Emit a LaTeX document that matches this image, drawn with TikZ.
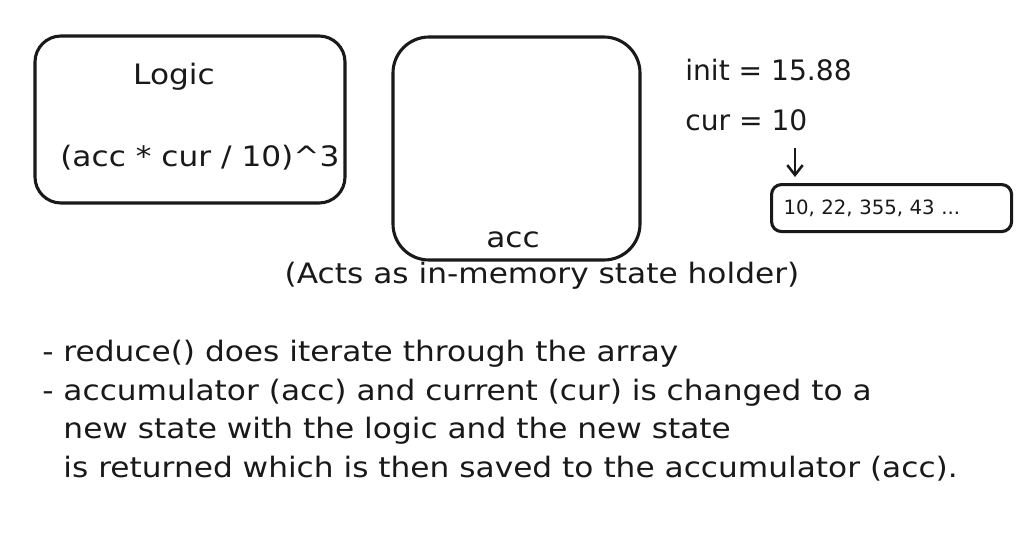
\documentclass[tikz,border=0pt]{standalone}
\usepackage{fontspec}
\setmainfont{DejaVu Sans}
\newfontfamily\widefont[FakeStretch=1.11]{DejaVu Sans}
\usepackage{tikz}
\usetikzlibrary{positioning, calc, arrows.meta}

\tikzset{
  box/.style={draw=black!90, line width=2.2pt},
  txt/.style={inner sep=0pt, font=\fontsize{20}{24}\selectfont, text=black!90},
  wide/.style={inner sep=0pt, font=\widefont\fontsize{20}{24}\selectfont, text=black!90},
  small/.style={inner sep=0pt, font=\fontsize{14}{17}\selectfont, text=black!90},
  flow/.style={draw=black!90, line width=1.8pt, -{Straight Barb[length=7pt,width=11pt]}}
}

\begin{document}
\begin{tikzpicture}[x=0.025cm, y=-0.025cm]
  \useasboundingbox (0,0) rectangle (1032,539);

  % Logic box
  \draw[box, rounded corners=0.65cm] (35,36) rectangle (345,203);
  \node[wide] (logic) at (174,77) {Logic};
  \node[wide, anchor=west] (formula) at (60,158) {(acc * cur / 10)\^{}3};

  % Accumulator box
  \draw[box, rounded corners=0.9cm] (393,37) rectangle (640,260);
  \node[wide] (acc) at (513,240) {acc};
  \node[wide] (holder) at (542,276) {(Acts as in-memory state holder)};

  % Values
  \node[txt, anchor=west] (init) at (685,70) {init = 15.88};
  \node[txt, anchor=west] (cur) at (685,120) {cur = 10};

  % Array
  \node[box, small, rounded corners=0.25cm, anchor=north west,
        minimum width=6cm, minimum height=1.175cm,
        text width=5.4cm, align=left] (arr) at (770,183) {10, 22, 355, 43 ...};

  \coordinate (curtip) at (795,148);
  \draw[flow, shorten >=0.15cm] (curtip) -- (curtip |- arr.north);

  % Notes
  \node[wide, anchor=north west, align=left,
        font=\widefont\fontsize{20}{27.5}\selectfont] (notes) at (42,340)
  {- reduce() does iterate through the array\\
   - accumulator (acc) and current (cur) is changed to a\\
   \phantom{- }new state with the logic and the new state\\
   \phantom{- }is returned which is then saved to the accumulator (acc).};

\end{tikzpicture}
\end{document}
